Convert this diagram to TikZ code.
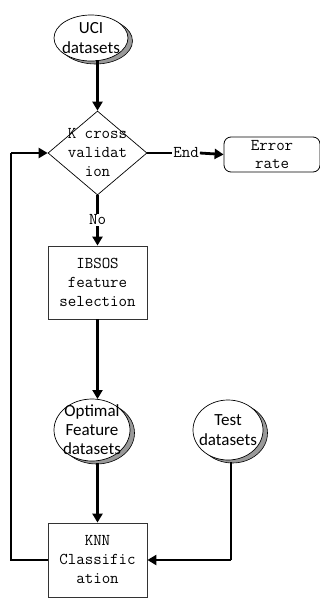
\documentclass[tikz,border=0pt]{standalone}
\usepackage{fontspec}
\newfontfamily\ellfont{Carlito}
\usetikzlibrary{shapes.geometric,arrows.meta,shadows}
\begin{document}
\begin{tikzpicture}[x=1pt,y=-1pt,
  flow/.style={line width=2.8pt,-{Triangle[length=9pt,width=10pt]}},
  plain/.style={line width=2.8pt},
  boxnode/.style={draw=black!80,line width=0.8pt,fill=white,minimum width=99pt,minimum height=73pt,inner sep=0pt},
  ell/.style={ellipse,draw,line width=0.7pt,fill=white,inner sep=0pt,
    copy shadow={shadow xshift=4.5pt,shadow yshift=-3pt,fill=black!40,draw=black,line width=0.6pt}},
  monotext/.style={font=\ttfamily\fontsize{16.5pt}{19pt}\selectfont,align=center,inner sep=0pt},
  elltext/.style={font=\ellfont\fontsize{17pt}{20pt}\selectfont,align=center,inner sep=0pt}]
\useasboundingbox (0,0) rectangle (320,600);
% nodes
\node[ell,minimum width=74pt,minimum height=46pt] (uci) at (91,38) {};
\node[elltext] (ucit) at (uci.center) {UCI\\datasets};
\node[diamond,draw,line width=0.7pt,minimum width=99pt,minimum height=84pt,inner sep=0pt,aspect=1.18] (kv) at (97.5,153) {};
\node[monotext] (kvt) at (kv.center) {K cross\\validat\\ion};
\node[draw,rounded corners=7pt,line width=0.8pt,minimum width=96pt,minimum height=35pt,inner sep=0pt] (err) at (272,154.5) {};
\node[monotext,font=\ttfamily\fontsize{16.5pt}{18pt}\selectfont] (errt) at (err.center) {Error\\rate};
\node[monotext,inner sep=1pt] (endl) at (186,153) {End};
\node[monotext,inner sep=1pt] (no) at (97.5,220) {No};
\node[boxnode] (ib) at (97.5,282.5) {};
\node[monotext] (ibt) at (ib.center) {IBSOS\\feature\\selection};
\node[ell,minimum width=76pt,minimum height=62pt] (opt) at (92,430) {};
\node[elltext,font=\ellfont\fontsize{17pt}{19pt}\selectfont] (optt) at (opt.center) {Optimal\\Feature\\datasets};
\node[ell,minimum width=70pt,minimum height=60pt] (test) at (228,430) {};
\node[elltext,font=\ellfont\fontsize{17pt}{20pt}\selectfont] (testt) at (test.center) {Test\\datasets};
\node[boxnode,minimum height=74pt] (knn) at (97.5,560) {};
\node[monotext] (knnt) at (knn.center) {KNN\\Classific\\ation};
\coordinate (ucib) at (97.5,60);
\coordinate (optt1) at (97.5,399);
\coordinate (optb) at (97.5,463);
\coordinate (testb) at (231,462);
\coordinate (testc) at (231,560);
\coordinate (fbl) at (11,560);
\coordinate (fbt) at (11,153);
% connectors
\draw[flow] (ucib) -- (kv.north);
\draw[plain] (kv.east) -- (endl.west);
\draw[flow] (endl.east) -- (err.west);
\draw[plain] (kv.south) -- (no.north);
\draw[flow] (no.south) -- (ib.north);
\draw[flow] (ib.south) -- (optt1);
\draw[flow] (optb) -- (knn.north);
\draw[plain] (testb) -- (testc);
\draw[flow] (testc) -- (knn.east);
\draw[plain] (knn.west) -- (fbl) -- (fbt);
\draw[flow] (fbt) -- (kv.west);
\end{tikzpicture}
\end{document}
